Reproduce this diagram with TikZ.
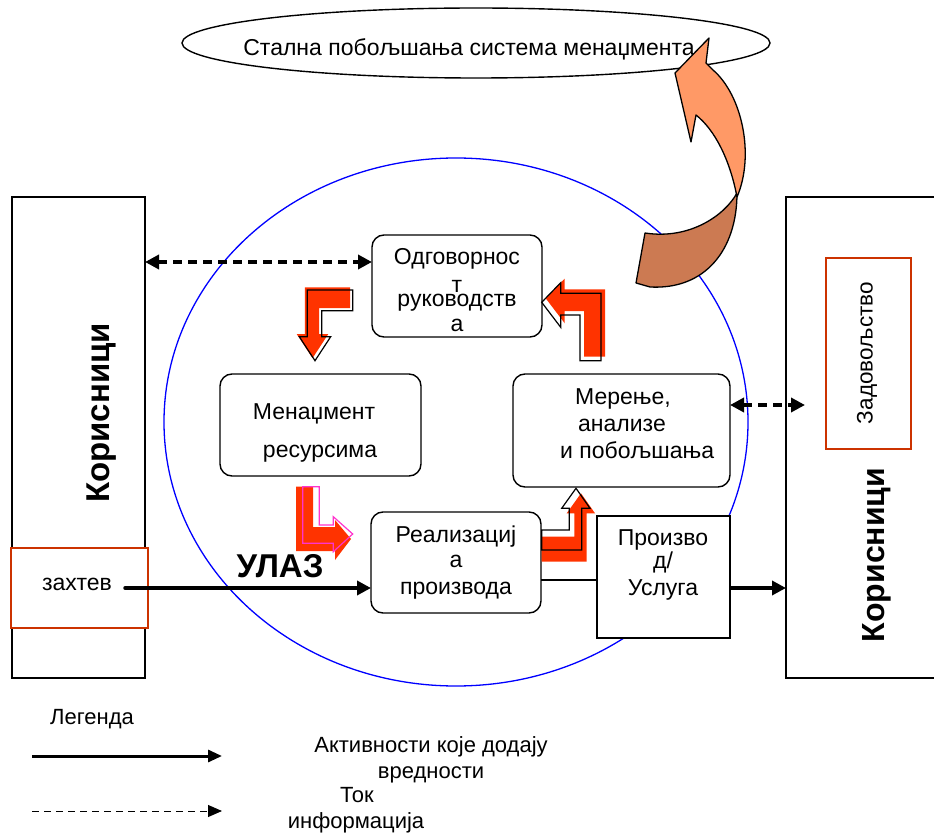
\documentclass[tikz,border=0pt]{standalone}
\usepackage{fontspec}
\setmainfont{Liberation Sans}
\usetikzlibrary{arrows.meta,shapes.geometric}

\definecolor{cycleblue}{RGB}{0,0,255}
\definecolor{bandred}{RGB}{255,51,0}
\definecolor{bandpink}{RGB}{255,51,204}
\definecolor{framered}{RGB}{204,51,0}
\definecolor{curllight}{RGB}{255,153,102}
\definecolor{curldark}{RGB}{204,122,82}

\begin{document}
\begin{tikzpicture}[x=1pt,y=-1pt,
  box/.style={draw, line width=1.4pt, fill=white, rounded corners=12pt, inner sep=0pt, outer sep=0pt},
  plainbox/.style={draw, line width=1.4pt, fill=white, inner sep=0pt, outer sep=0pt},
  redframe/.style={draw=framered, line width=1.4pt, fill=white, inner sep=0pt, outer sep=0pt},
  lbl/.style={font=\fontsize{23}{27}\selectfont, inner sep=0pt, anchor=base},
  lblw/.style={lbl, anchor=base west},
  legtext/.style={font=\fontsize{22}{26}\selectfont, inner sep=0pt, anchor=base},
  flow/.style={line width=3.5pt, -{Triangle[length=14pt,width=14pt]}},
  info/.style={line width=3.5pt, dash pattern=on 9pt off 6pt,
    {Triangle[length=14pt,width=14pt]}-{Triangle[length=14pt,width=14pt]}},
  bandline/.style={line width=1.2pt, line join=miter},
]
\useasboundingbox (0,0) rectangle (934,834);
\clip (0,0) rectangle (934,834);

% process cycle
\draw[cycleblue, line width=1.3pt] (456,422) ellipse [x radius=292, y radius=264];

% customers, left and right
\node[plainbox, minimum width=133pt, minimum height=481pt] (custL) at (78.5,437.5) {};
\node[rotate=90, inner sep=0pt] (custLtext) at (102,413)
  {\bfseries\fontsize{33}{36}\selectfont Корисници};
\node[redframe, minimum width=137pt, minimum height=80pt] (req) at (79.5,588) {};
\node[lbl] (reqtext) at (77,590) {захтев};

\node[plainbox, minimum width=159pt, minimum height=481pt] (custR) at (865.5,437.5) {};
\node[redframe, minimum width=85pt, minimum height=191pt] (sat) at (868.5,353.5) {};
\node[rotate=90, inner sep=0pt] (sattext) at (867,353)
  {\fontsize{22.5}{26}\selectfont Задовољство};
\node[rotate=90, inner sep=0pt] (custRtext) at (877,555)
  {\bfseries\fontsize{32}{36}\selectfont Корисници};

% process boxes
\node[box, minimum width=170pt, minimum height=102pt] (lead) at (457,286) {};
\node[lbl] (leadA) at (457,265) {Одговорнос};
\node[lbl] (leadB) at (457,292) {т};
\node[lbl] (leadC) at (457,306) {руководств};
\node[lbl] (leadD) at (457,331) {а};

\node[box, minimum width=201pt, minimum height=102pt] (res) at (320.5,425) {};
\node[lbl] (resA) at (314,419) {Менаџмент};
\node[lbl] (resB) at (320,457) {ресурсима};

\node[box, minimum width=217pt, minimum height=113pt] (meas) at (621.5,430.5) {};
\node[lblw] (measA) at (575,404) {Мерење,};
\node[lblw] (measB) at (578,431) {анализе};
\node[lblw] (measC) at (560,458) {и побољшања};

\node[box, minimum width=170pt, minimum height=101pt] (real) at (456,562.5) {};
\node[lbl] (realA) at (456,542) {Реализациј};
\node[lbl] (realB) at (456,567) {а};
\node[lbl] (realC) at (456,594) {производа};

\node[plainbox, minimum width=133pt, minimum height=122pt] (prod) at (663.5,577) {};
\node[lbl] (prodA) at (663,545) {Произво};
\node[lbl] (prodB) at (663,568) {д/};
\node[lbl] (prodC) at (663,595) {Услуга};

\node[inner sep=0pt, anchor=base] (input) at (280,577)
  {\bfseries\fontsize{33}{36}\selectfont УЛАЗ};

% connectors
\coordinate (infoL) at (145,262);
\draw[info] (infoL) -- (infoL -| lead.west);
\coordinate (reqstart) at (125,588);
\draw[flow, line cap=round] (reqstart) -- (reqstart -| real.west);
\coordinate (joinA) at (541,580);
\draw[line width=1.3pt] (joinA) -- (joinA -| prod.west);
\coordinate (outA) at (730,588);
\draw[flow] (outA) -- (outA -| custR.west);
\coordinate (infoR) at (805,405);
\draw[info] (infoR -| meas.east) -- (infoR);

% bent arrows of the cycle
\fill[bandred, shift={(-2.5,-2.5)}] (307.3,290) -- (352.7,290) -- (352.7,310.7) -- (321.7,310.7)
  -- (321.7,336.7) -- (330.7,336.7) -- (315,360.7) -- (299.3,336.7) -- (307.3,336.7) -- cycle;
\draw[bandline] (307.3,290) -- (352.7,290) -- (352.7,310.7) -- (321.7,310.7)
  -- (321.7,336.7) -- (330.7,336.7) -- (315,360.7) -- (299.3,336.7) -- (307.3,336.7) -- cycle;

\fill[bandred] (296,486.7) -- (313,486.7) -- (313,527) -- (335,527) -- (335,520) -- (351,539)
  -- (335,560) -- (335,551) -- (296,551) -- cycle;
\draw[bandline, bandpink] (302.7,486.7) -- (319.3,486.7) -- (319.3,525) -- (333.3,525) -- (333.3,516.7)
  -- (352.7,534) -- (333.3,551.7) -- (333.3,543.3) -- (302.7,543.3) -- cycle;

\fill[bandred] (541.7,536.7) -- (574.3,536.7) -- (574.3,513.3) -- (566.7,513.3) -- (581,493.3)
  -- (595,513.3) -- (586.7,513.3) -- (586.7,561.7) -- (541.7,561.7) -- cycle;
\draw[bandline] (541.7,530) -- (569.3,530) -- (569.3,508.3) -- (561.7,508.3) -- (576,488.3)
  -- (590,508.3) -- (581.7,508.3) -- (581.7,550) -- (541.7,550) -- cycle;

\fill[bandred, shift={(4,-4)}] (541.7,302.3) -- (560.7,282.7) -- (560.7,293.3) -- (601,293.3)
  -- (601,360.7) -- (580,360.7) -- (580,315) -- (560.7,315) -- (560.7,327.3) -- cycle;
\draw[bandline] (541.7,302.3) -- (560.7,282.7) -- (560.7,293.3) -- (601,293.3)
  -- (601,360.7) -- (580,360.7) -- (580,315) -- (560.7,315) -- (560.7,327.3) -- cycle;

% continual improvement
\node[ellipse, draw, line width=1.4pt, fill=white, minimum width=588pt, minimum height=70pt, inner sep=0pt] (improve) at (476,43) {};
\node[lbl] (improvetext) at (469,56) {Стална побољшања система менаџмента};

% curled arrow: back face, then front face with head
\filldraw[fill=curldark, line width=1.3pt, line join=round]
  (737,193) .. controls (737,250) and (705,290) .. (650,287) -- (636,283) -- (645,233)
  .. controls (690,240) and (725,215) .. (737,193) -- cycle;
\filldraw[fill=curllight, line width=1.3pt, line join=round]
  (709,38) -- (706,63) -- (713,70) .. controls (742,95) and (755,155) .. (737,197)
  .. controls (730,160) and (715,130) .. (696,115) -- (691,142) -- (675,73) -- cycle;

% legend
\node[legtext] (legend) at (92,724) {Легенда};
\coordinate (legA1) at (32,756);
\coordinate (legA2) at (222,756);
\draw[line width=3pt, -{Triangle[length=14pt,width=12pt]}] (legA1) -- (legA2);
\coordinate (legB1) at (32,811);
\coordinate (legB2) at (222,811);
\draw[line width=1pt, dash pattern=on 7pt off 5pt, -{Triangle[length=14pt,width=12pt]}] (legB1) -- (legB2);
\node[legtext] (legAa) at (431,752) {Активности које додају};
\node[legtext] (legAb) at (431,778) {вредности};
\node[legtext] (legBa) at (357,802) {Ток};
\node[legtext] (legBb) at (356,828) {информација};
\end{tikzpicture}
\end{document}
